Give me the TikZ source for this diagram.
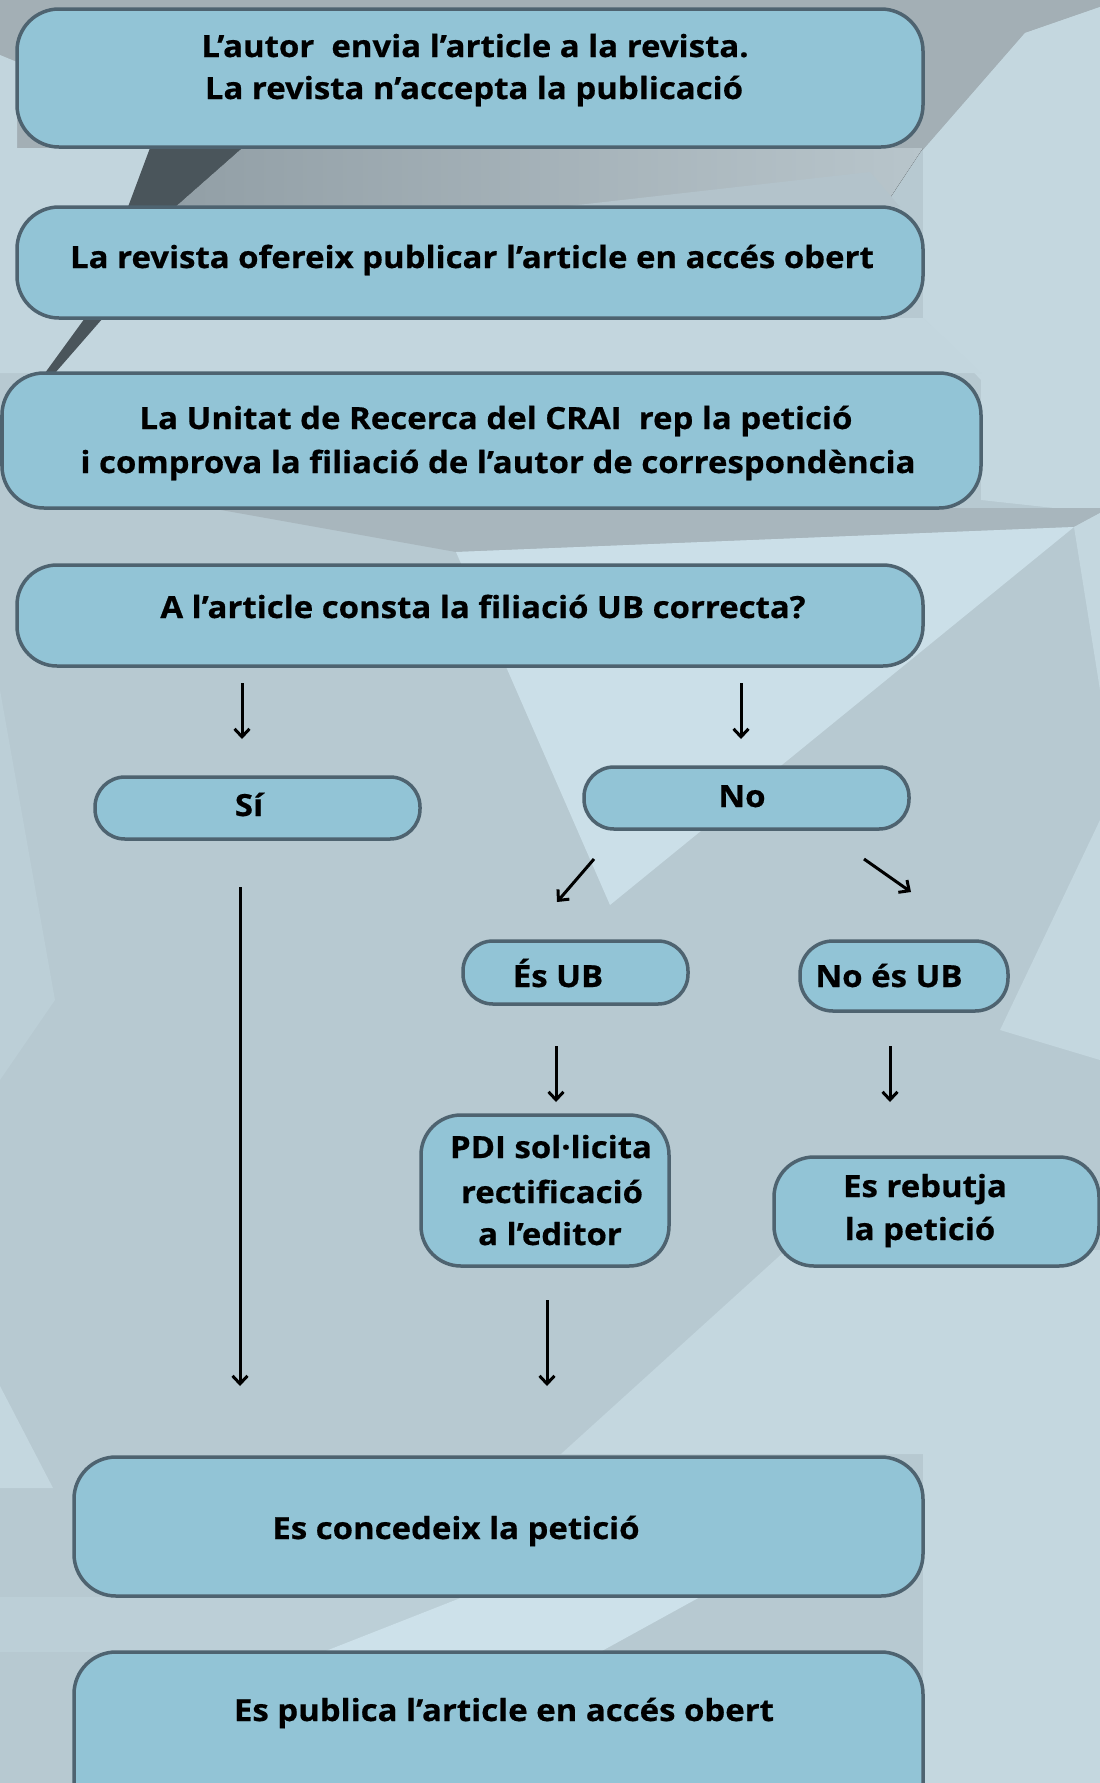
\documentclass[tikz,border=0pt]{standalone}
\usepackage{fontspec}
\newfontfamily\osb{Open Sans}[FakeStretch=1.08,FakeBold=0.6]
\usetikzlibrary{arrows.meta}
\definecolor{boxfill}{HTML}{92C4D6}
\definecolor{boxline}{HTML}{4E6370}
\definecolor{bgbase}{HTML}{B7C9D1}
\definecolor{bglight}{HTML}{C4D7DF}
\definecolor{bglighter}{HTML}{CDE1EA}
\definecolor{bggray}{HTML}{A3AFB5}
\definecolor{bgmid}{HTML}{A8B6BD}
\definecolor{bgdark}{HTML}{4A555B}
\definecolor{gradleft}{HTML}{929FA6}
\definecolor{gradright}{HTML}{B8C5CB}
\tikzset{
  box/.style={draw=boxline, line width=3.5pt, fill=boxfill, rectangle, inner sep=0pt},
  txt/.style={anchor=base, inner sep=0pt, text=black, font=\osb\bfseries\fontsize{30.5}{36}\selectfont},
  arr/.style={line width=3pt, draw=black, -{Straight Barb[length=8pt,width=15pt,line width=3pt]}},
}
\begin{document}
\begin{tikzpicture}[x=1pt,y=-1pt]
\useasboundingbox (0,0) rectangle (1100,1783);
% ---------- background ----------
\fill[bgbase] (0,0) rectangle (1100,1783);
\fill[bggray] (0,0) -- (1100,0) -- (1100,7) -- (1025,33) -- (923,150) -- (0,150) -- cycle;
\fill[bglight!85!bgbase] (0,55) -- (17,62) -- (17,148) -- (150,148) -- (128,207) -- (85,318) -- (45,373) -- (0,373) -- cycle;
\fill[left color=gradleft, right color=gradright] (242,148) -- (923,148) -- (884,207) -- (175,207) -- cycle;
\fill[bgmid!60!bglight] (560,207) -- (870,172) -- (900,207) -- cycle;
\fill[bglight] (1025,33) -- (1100,7) -- (1100,513) -- (981,500) -- (981,380) -- (923,318) -- (923,150) -- cycle;
\fill[bglight!90!bgbase] (103,318) -- (923,318) -- (981,373) -- (55,373) -- cycle;
\fill[bgdark] (150,148) -- (242,148) -- (175,207) -- (103,318) -- (55,373) -- (45,373) -- (85,318) -- (128,207) -- cycle;
\fill[bgmid] (210,508) -- (1100,508) -- (1100,513) -- (1074,527) -- (456,552) -- cycle;
\fill[bglighter!80!bglight] (456,552) -- (1074,527) -- (610,905) -- cycle;
\fill[bglight] (1074,527) -- (1100,513) -- (1100,690) -- cycle;
\fill[bglight] (1100,820) -- (1100,1060) -- (1000,1030) -- cycle;
\fill[bgbase!60!bglight] (0,690) -- (55,1000) -- (0,1080) -- cycle;
\fill[bglight] (561,1454) -- (786,1250) -- (1100,1250) -- (1100,1783) -- (923,1783) -- (923,1454) -- cycle;
\fill[bglight] (0,1386) -- (53,1488) -- (0,1488) -- cycle;
\fill[bgbase!60!bglight] (0,1597) -- (463,1597) -- (323,1652) -- (0,1652) -- cycle;
\fill[bglighter] (323,1652) -- (463,1597) -- (700,1597) -- (600,1652) -- cycle;
% ---------- boxes ----------
\node[box, minimum width=906pt, minimum height=138pt, rounded corners=42pt] (b1) at (470,78) {};
\node[box, minimum width=906pt, minimum height=111pt, rounded corners=42pt] (b2) at (470,262.5) {};
\node[box, minimum width=979pt, minimum height=135pt, rounded corners=42pt] (b3) at (491.5,440.5) {};
\node[box, minimum width=906pt, minimum height=101pt, rounded corners=40pt] (b4) at (470,615.5) {};
\node[box, minimum width=325pt, minimum height=62pt, rounded corners=30pt] (si) at (257.5,808) {};
\node[box, minimum width=325pt, minimum height=62pt, rounded corners=30pt] (no) at (746.5,798) {};
\node[box, minimum width=225pt, minimum height=63pt, rounded corners=30pt] (esub) at (575.5,972.5) {};
\node[box, minimum width=208pt, minimum height=70pt, rounded corners=33pt] (noesub) at (904,976) {};
\node[box, minimum width=248pt, minimum height=151pt, rounded corners=40pt] (pdi) at (545,1190.5) {};
\node[box, minimum width=325pt, minimum height=109pt, rounded corners=40pt] (reb) at (936.5,1211.5) {};
\node[box, minimum width=849pt, minimum height=139pt, rounded corners=42pt] (conc) at (498.5,1526.5) {};
\node[box, minimum width=849pt, minimum height=178pt, rounded corners=42pt] (pub) at (498.5,1741) {};
% ---------- texts ----------
\node[txt] (t1a) at (475,57) {L’autor\ \ envia l’article a la revista.};
\node[txt] (t1b) at (474,99) {La revista n’accepta la publicació};
\node[txt] (t2) at (472,268) {La revista ofereix publicar l’article en accés obert};
\node[txt] (t3a) at (496,429) {La Unitat de Recerca del CRAI\ \ rep la petició};
\node[txt] (t3b) at (498,473) {i comprova la filiació de l’autor de correspondència};
\node[txt] (t4) at (483,618) {A l’article consta la filiació UB correcta?};
\node[txt] (tsi) at (249,816) {Sí};
\node[txt] (tno) at (742,807) {No};
\node[txt] (tesub) at (558,987) {És UB};
\node[txt] (tnoesub) at (889,987) {No és UB};
\node[txt] (tpa) at (551,1158) {PDI sol·licita};
\node[txt] (tpb) at (552,1203) {rectificació};
\node[txt] (tpc) at (550,1245) {a l’editor};
\node[txt] (tra) at (925,1197) {Es rebutja};
\node[txt] (trb) at (920,1240) {la petició};
\node[txt] (tconc) at (456,1539) {Es concedeix la petició};
\node[txt] (tpub) at (504,1721) {Es publica l’article en accés obert};
% ---------- connectors ----------
\coordinate (a1s) at (242,683); \coordinate (a1e) at (242,739);
\coordinate (a2s) at (741,683); \coordinate (a2e) at (741,739);
\coordinate (a3s) at (594,859); \coordinate (a3e) at (557,902);
\coordinate (a4s) at (864,859); \coordinate (a4e) at (911,892);
\coordinate (a5s) at (240,887); \coordinate (a5e) at (240,1386);
\coordinate (a6s) at (556,1046); \coordinate (a6e) at (556,1102);
\coordinate (a7s) at (890,1046); \coordinate (a7e) at (890,1102);
\coordinate (a8s) at (547,1300); \coordinate (a8e) at (547,1386);
\draw[arr] (a1s) -- (a1e);
\draw[arr] (a2s) -- (a2e);
\draw[arr] (a3s) -- (a3e);
\draw[arr] (a4s) -- (a4e);
\draw[arr] (a5s) -- (a5e);
\draw[arr] (a6s) -- (a6e);
\draw[arr] (a7s) -- (a7e);
\draw[arr] (a8s) -- (a8e);
\end{tikzpicture}
\end{document}
